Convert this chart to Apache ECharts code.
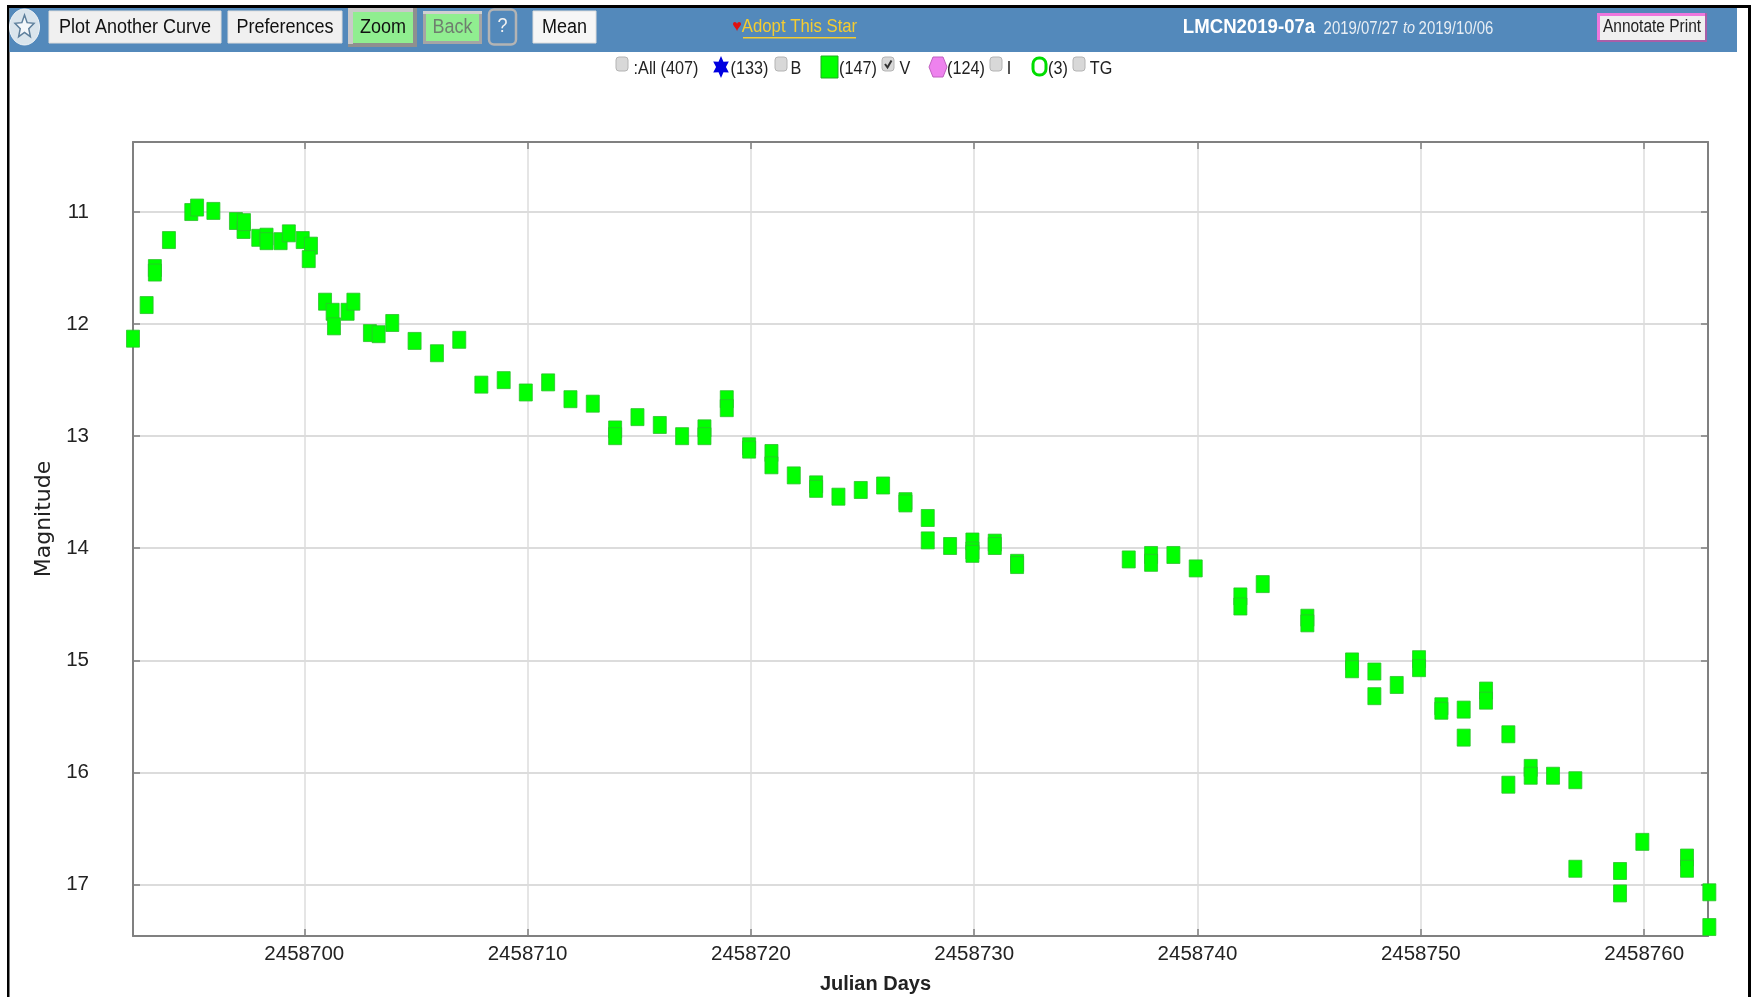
<!DOCTYPE html>
<html>
<head>
<meta charset="utf-8">
<title>LMCN2019-07a</title>
<script src="https://cdn.jsdelivr.net/npm/echarts@6/dist/echarts.min.js"></script>
<style>
  html, body { margin: 0; padding: 0; background: #fff; }
  #lightcurve { width: 1751px; height: 997px; }
</style>
</head>
<body>
<div id="lightcurve"></div>
<script>
// V band points, days counted from jdBase
const jdBase = 2458700
const vDays = [
  -7.67, -7.06, -6.69, -6.69, -6.06, -5.06, -4.8, -4.07, -3.06, -2.72, -2.7, -2.06, -1.69, -1.69, -1.06, -0.69, -0.07, 0.3, 0.2,
  0.93, 1.27, 1.33, 1.94, 2.2, 2.94, 3.33, 3.94, 4.94, 5.94, 6.94, 7.93, 8.93, 9.92, 10.92, 11.92, 12.92, 13.92, 13.92, 14.92, 15.92, 16.92, 17.92, 17.92, 18.92, 18.92,
  19.92, 19.92, 20.92, 20.92, 21.92, 22.92, 22.92, 23.92, 24.92, 25.92, 26.92, 26.92, 27.92, 27.92, 28.92, 29.92, 29.92, 29.92, 30.92, 30.92, 31.92, 31.92,
  36.92, 37.92, 37.92, 38.92, 39.92, 41.92, 41.92, 42.92, 44.92, 44.92, 46.92, 46.92, 47.92, 47.92, 48.92, 49.92, 49.92, 50.92, 50.92, 51.92, 51.92, 52.92, 52.92, 53.92, 53.92, 54.92, 54.92, 55.92, 56.92, 56.92,
  58.92, 58.92, 59.92, 61.92, 61.92, 62.92, 62.92
]
const vMags = [
  12.13, 11.83, 11.5, 11.54, 11.25, 11.0, 10.96, 10.99, 11.08, 11.16, 11.09, 11.23, 11.22, 11.26, 11.26, 11.19, 11.25, 11.3, 11.42,
  11.8, 11.89, 12.02, 11.89, 11.8, 12.08, 12.09, 11.99, 12.15, 12.26, 12.14, 12.54, 12.5, 12.61, 12.52, 12.67, 12.71, 12.94, 13.0, 12.83, 12.9, 13.0, 12.93, 13.0, 12.67, 12.75,
  13.09, 13.12, 13.15, 13.26, 13.35, 13.43, 13.47, 13.54, 13.48, 13.44, 13.58, 13.6, 13.73, 13.93, 13.98, 13.94, 14.02, 14.05, 13.95, 13.98, 14.13, 14.15,
  14.1, 14.06, 14.13, 14.06, 14.18, 14.43, 14.52, 14.32, 14.62, 14.67, 15.01, 15.08, 15.1, 15.32, 15.22, 14.99, 15.07, 15.41, 15.45, 15.44, 15.69, 15.27, 15.36, 15.66, 16.11, 15.96, 16.03, 16.03, 16.07, 16.86,
  16.88, 17.08, 16.62, 16.76, 16.86, 17.07, 17.38
]
const xTicks = [2458700, 2458710, 2458720, 2458730, 2458740, 2458750, 2458760]
const yTicks = [11, 12, 13, 14, 15, 16, 17]

const FONT = '"Liberation Sans", Arial, sans-serif'
const GRID_LINE = '#dcdcdc'
const AXIS_LINE = '#808080'

function text(str, x, y, size, color, extra) {
  extra = extra || {}
  return {
    type: 'text', x: x, y: y, scaleX: extra.scaleX || 0.9, z: 20,
    style: {
      text: str, x: 0, y: 0, fill: color,
      font: (extra.italic ? 'italic ' : '') + (extra.bold ? 'bold ' : '') + size + 'px ' + FONT,
      align: extra.align || 'center', verticalAlign: 'middle'
    }
  }
}

function box(x, y, w, h, fill, stroke, r) {
  return {
    type: 'rect', z: 10,
    shape: { x: x, y: y, width: w, height: h, r: r || 0 },
    style: { fill: fill, stroke: stroke || null, lineWidth: stroke ? 1 : 0 }
  }
}

function button(x, y, w, h, label, fill, color, size) {
  return [box(x, y, w, h, fill, '#dddddd'), text(label, x + w / 2, y + h / 2, size || 20, color)]
}

function checkbox(x, y, checked) {
  const items = [box(x, y, 12, 14, '#d8d8d8', '#b4b4b4', 3)]
  if (checked) {
    items.push({
      type: 'polyline', z: 11,
      shape: { points: [[x + 3, y + 7], [x + 5.5, y + 10.5], [x + 9.5, y + 3.5]] },
      style: { stroke: '#333', lineWidth: 2, fill: null }
    })
  }
  return items
}

function starPoints(cx, cy, outerX, outerY, tips, innerRatio) {
  const pts = []
  for (let i = 0; i < tips * 2; i++) {
    const k = i % 2 ? innerRatio : 1
    const a = -Math.PI / 2 + i * Math.PI / tips
    pts.push([cx + Math.cos(a) * outerX * k, cy + Math.sin(a) * outerY * k])
  }
  return pts
}

function headerGraphics() {
  let g = []
  // page frame and blue bar
  g.push(box(7, 5, 1744, 3, '#000'), box(7, 5, 2.5, 992, '#000'), box(1748, 5, 3, 992, '#000'))
  g.push(box(9.5, 8, 1727.5, 44, '#5389bb'))

  // logo
  g.push({ type: 'ellipse', z: 11, shape: { cx: 24.5, cy: 27, rx: 15, ry: 18 }, style: { fill: '#d9e4ec', stroke: '#eef3f7', lineWidth: 1 } })
  g.push({ type: 'polygon', z: 12, shape: { points: starPoints(24.5, 27, 10, 12, 5, 0.45) }, style: { fill: '#f4f7fa', stroke: '#5d7f9c', lineWidth: 1.5 } })

  g = g.concat(button(49, 11, 172, 32, 'Plot Another Curve', '#f0f0f0', '#111'))
  g = g.concat(button(228, 11, 114, 32, 'Preferences', '#f0f0f0', '#111'))

  g.push(box(348, 8, 69, 39, '#8f8f8f'), box(348, 8, 65, 4, '#c9c9c9'), box(348, 8, 5, 36, '#c9c9c9'))
  g.push(box(353, 12, 60, 31, '#90ee90'), text('Zoom', 383, 27, 20, '#111'))

  g.push(box(423, 11, 59, 33, '#a5a5a5'), box(423, 11, 59, 3, '#d0d0d0'))
  g.push(box(426, 14, 53, 27, '#90ee90'), text('Back', 452.5, 27, 20, '#6f7f6f'))

  g.push(box(489, 9.5, 27, 35, '#5389bb', '#b4b4b4', 5))
  g[g.length - 1].style.lineWidth = 2.5
  g.push(text('?', 502.5, 26, 20, '#f2f2f2'))

  g = g.concat(button(533, 11, 63, 32, 'Mean', '#f6f6f6', '#111'))

  // adopt link
  g.push(text('♥', 737, 27, 16, '#e01010', { scaleX: 1 }))
  g.push(text('Adopt This Star', 799.5, 27, 18, '#f5cc30', { scaleX: 0.93 }))
  g.push(box(743, 37, 113, 1.4, '#f5cc30'))

  g.push(text('LMCN2019-07a', 1249, 27, 20, '#ffffff', { bold: true, scaleX: 0.93 }))
  g.push(text('2019/07/27', 1361, 29, 18, '#e8eef4', { scaleX: 0.83 }))
  g.push(text('to', 1409, 29, 16, '#e8eef4', { scaleX: 0.9, italic: true }))
  g.push(text('2019/10/06', 1456, 29, 18, '#e8eef4', { scaleX: 0.83 }))

  g.push(box(1597, 13, 110, 29, '#a85fa8'), box(1597, 13, 108, 3, '#ee77dd'), box(1597, 13, 3, 27, '#ee77dd'))
  g.push(box(1600, 16, 105, 24, '#f0f0f0'), text('Annotate Print', 1652, 27, 18, '#222', { scaleX: 0.86 }))

  // band selector row
  g = g.concat(checkbox(616, 57, false))
  g.push(text(':All (407)', 666, 69, 18, '#222', { scaleX: 0.9 }))
  g.push({ type: 'polygon', z: 12, shape: { points: starPoints(721, 67, 9, 11, 6, 0.55) }, style: { fill: '#0000e0' } })
  g.push(text('(133)', 749.5, 69, 18, '#222', { scaleX: 0.9 }))
  g = g.concat(checkbox(775, 57, false))
  g.push(text('B', 796, 69, 18, '#222', { scaleX: 0.9 }))
  g.push(box(821, 56, 17, 22, '#00ff00', '#22aa22'))
  g.push(text('(147)', 858, 69, 18, '#222', { scaleX: 0.9 }))
  g = g.concat(checkbox(882, 57, true))
  g.push(text('V', 905, 69, 18, '#222', { scaleX: 0.9 }))
  g.push({
    type: 'polygon', z: 12,
    shape: { points: [[929, 67], [933, 57], [943, 57], [947, 67], [943, 77], [933, 77]] },
    style: { fill: '#ee82ee', stroke: '#c060c0', lineWidth: 1 }
  })
  g.push(text('(124)', 966, 69, 18, '#222', { scaleX: 0.9 }))
  g = g.concat(checkbox(990, 57, false))
  g.push(text('I', 1009, 69, 18, '#222', { scaleX: 0.9 }))
  g.push({ type: 'rect', z: 12, shape: { x: 1033, y: 58, width: 13, height: 17, r: 6 }, style: { fill: '#fff', stroke: '#00dd00', lineWidth: 3 } })
  g.push(text('(3)', 1058, 69, 18, '#222', { scaleX: 0.9 }))
  g = g.concat(checkbox(1073, 57, false))
  g.push(text('TG', 1101, 69, 18, '#222', { scaleX: 0.9 }))
  return g
}

let chart = echarts.init(document.getElementById('lightcurve'))

function hiddenSide(ticks) {
  return {
    axisLine: { show: true, onZero: false, lineStyle: { color: AXIS_LINE, width: 2 } },
    axisTick: { show: true, inside: true, length: 7, customValues: ticks, lineStyle: { color: AXIS_LINE, width: 1.5 } },
    axisLabel: { show: false },
    splitLine: { show: false }
  }
}
const xRange = { type: 'value', scale: true, min: 2458692.33, max: 2458762.86 }
const yRange = { type: 'value', scale: true, inverse: true, min: 10.375, max: 17.46 }

let option = {
  animation: false,
  backgroundColor: '#ffffff',
  textStyle: { fontFamily: FONT },
  grid: { left: 133, top: 142, width: 1575, height: 794, outerBoundsMode: 'none' },
  xAxis: [
    {
      ...xRange,
      position: 'bottom',
      name: 'Julian Days',
      nameLocation: 'middle',
      nameGap: 38,
      nameTextStyle: { fontFamily: FONT, fontSize: 20, fontWeight: 'bold', color: '#222', padding: [0, 90, 0, 0] },
      axisLine: { show: true, onZero: false, lineStyle: { color: AXIS_LINE, width: 2 } },
      axisTick: { show: true, inside: true, length: 7, customValues: xTicks, lineStyle: { color: AXIS_LINE, width: 1.5 } },
      axisLabel: {
        fontFamily: FONT, fontSize: 20.5, color: '#222', margin: 8, customValues: xTicks,
        formatter: (v) => String(Math.round(v))
      },
      splitLine: { show: true, lineStyle: { color: GRID_LINE, width: 1.5 } }
    },
    { ...xRange, position: 'top', ...hiddenSide(xTicks) }
  ],
  yAxis: [
    {
      ...yRange,
      position: 'left',
      name: 'Magnitude',
      nameLocation: 'middle',
      nameGap: 70,
      nameTextStyle: { fontFamily: '"DejaVu Sans", sans-serif', fontSize: 22, color: '#222', padding: [0, 0, 0, 40] },
      axisLine: { show: true, onZero: false, lineStyle: { color: AXIS_LINE, width: 2 } },
      axisTick: { show: true, inside: true, length: 7, customValues: yTicks, lineStyle: { color: AXIS_LINE, width: 1.5 } },
      axisLabel: {
        fontFamily: FONT, fontSize: 20.5, color: '#222', margin: 44, customValues: yTicks,
        formatter: (v) => String(Math.round(v))
      },
      splitLine: { show: true, lineStyle: { color: GRID_LINE, width: 2 } }
    },
    { ...yRange, position: 'right', ...hiddenSide(yTicks) }
  ],
  series: [
    {
      name: 'V',
      type: 'scatter',
      symbol: 'rect',
      symbolSize: [13, 17],
      clip: false,
      z: 5,
      itemStyle: { color: '#00ff00', opacity: 1, borderColor: '#2cc22c', borderWidth: 0.8 },
      data: vDays.map((d, i) => [jdBase + d, vMags[i]])
    }
  ],
  graphic: { elements: headerGraphics() }
}
chart.setOption(option)
</script>
</body>
</html>
